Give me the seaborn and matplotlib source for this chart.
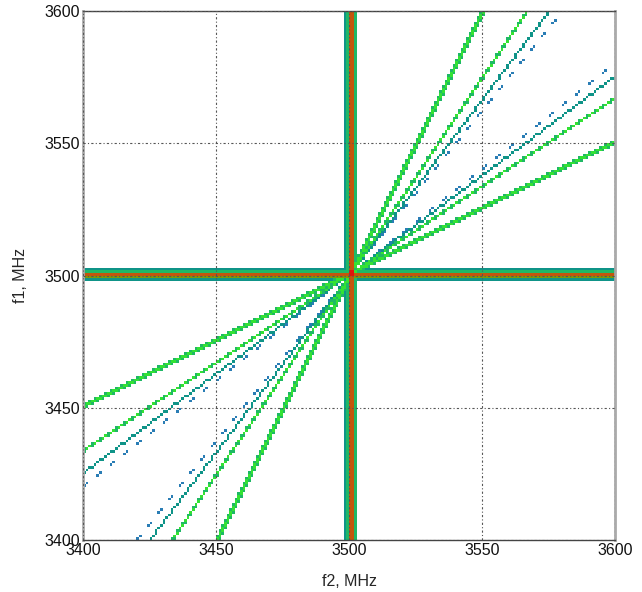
import numpy as np
import seaborn as sns
import matplotlib.pyplot as plt
from matplotlib.colors import ListedColormap

# frequency grid, 1 MHz cells
f_start = 3400
f_stop = 3600
tick_vals = [3400, 3450, 3500, 3550, 3600]

# intermodulation products m*fa - n*fb falling in receive band
im_m = [2, 3, 4, 5]
im_n = [1, 2, 3, 4]
im_level = [4, 4, 2, 1]
im_halfwidth = [2.0, 2.1, 2.0, 1.2]
im_mid = 3501.0

# fundamental band profile (cell lower edge, level)
band_cells = [3498, 3499, 3500, 3501, 3502]
row_band_level = [2, 5, 6, 3, 2]
col_band_level = [2, 3, 6, 6, 3]
center_cell = 3500

level_colors = ['#2a7db5', '#0f9488', '#1fb866', '#33e233',
                '#7f9a05', '#c4560c', '#e0140c']

sns.set_style('white')
plt.rcParams['font.family'] = ['Liberation Sans', 'DejaVu Sans']

f = np.arange(f_start, f_stop) + 0.5
F2, F1 = np.meshgrid(f, f)
grid = np.full(F1.shape, np.nan)

for m, n, lev, hw in zip(im_m, im_n, im_level, im_halfwidth):
    for a, b in [(F1, F2), (F2, F1)]:
        d = np.abs(m * a - n * b - im_mid)
        hit = d <= hw
        vals = np.where(d > 0.7 * hw, max(lev - 1, 1), lev) if lev == 4 else np.full(d.shape, lev)
        grid[hit] = np.fmax(grid[hit], vals[hit])

for c, rl, cl in zip(band_cells, row_band_level, col_band_level):
    i = c - f_start
    grid[i, :] = np.fmax(grid[i, :], rl)
    grid[:, i] = np.fmax(grid[:, i], cl)
ci = center_cell - f_start
grid[ci:ci + 2, ci:ci + 2] = 7

fig = plt.figure(figsize=(6.42, 5.92), dpi=100)
ax = fig.add_axes([0.1293, 0.0878, 0.8287, 0.8936])
cmap = ListedColormap(level_colors)
sns.heatmap(grid, cmap=cmap, vmin=0.5, vmax=7.5, cbar=False, ax=ax,
            xticklabels=False, yticklabels=False, linewidths=0)
ax.invert_yaxis()
n = f_stop - f_start
pos = [v - f_start for v in tick_vals]
ax.set_xlim(0, n)
ax.set_ylim(0, n)
ax.set_xticks(pos)
ax.set_xticklabels([str(v) for v in tick_vals])
ax.set_yticks(pos)
ax.set_yticklabels([str(v) for v in tick_vals], rotation=0)
ax.tick_params(length=0, labelsize=11.5, pad=2, colors='#111111')
ax.set_axisbelow(False)
ax.grid(True, color='#555555', linestyle=(0, (2, 2, 1, 2)), linewidth=0.8)
for s in ['left', 'right']:
    ax.spines[s].set_visible(True)
    ax.spines[s].set_color('#aaaaaa')
    ax.spines[s].set_linewidth(2)
for s in ['top', 'bottom']:
    ax.spines[s].set_visible(True)
    ax.spines[s].set_color('#444444')
    ax.spines[s].set_linewidth(1)
ax.set_xlabel('f2, MHz', fontsize=11.5, labelpad=12)
ax.set_ylabel('f1, MHz', fontsize=11.5, labelpad=12)
fig.savefig('out.png', dpi=100)
